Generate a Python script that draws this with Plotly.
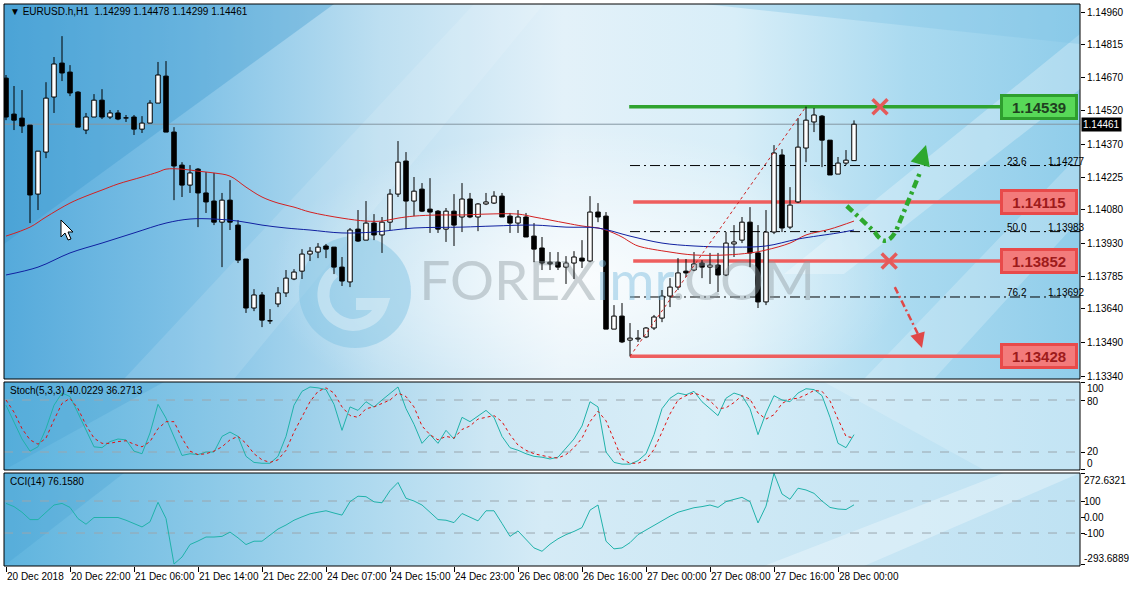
import base64
import plotly.graph_objects as go

# ---------------- data ----------------
bar_index = list(range(107))
opens = [1.14666, 1.14506, 1.14488, 1.14457, 1.14150, 1.14337, 1.14582, 1.14733, 1.14693, 1.14604,
         1.14435, 1.14493, 1.14568, 1.14493, 1.14511, 1.14488, 1.14493, 1.14439, 1.14466, 1.14555,
         1.14675, 1.14426, 1.14279, 1.14190, 1.14261, 1.14155, 1.14119, 1.14025, 1.14123, 1.14012,
         1.13861, 1.13643, 1.13701, 1.13585, 1.13661, 1.13710, 1.13772, 1.13807, 1.13883, 1.13892,
         1.13919, 1.13914, 1.13825, 1.13759, 1.13994, 1.13945, 1.14021, 1.13968, 1.14025, 1.14150,
         1.14297, 1.14119, 1.14172, 1.14083, 1.14074, 1.13994, 1.14074, 1.14048, 1.14128, 1.14048,
         1.14106, 1.14110, 1.14141, 1.14052, 1.14021, 1.14048, 1.13963, 1.13910, 1.13847, 1.13847,
         1.13825, 1.13843, 1.13865, 1.13852, 1.14070, 1.14052, 1.13549, 1.13607, 1.13500, 1.13505,
         1.13514, 1.13554, 1.13598, 1.13696, 1.13736, 1.13807, 1.13812, 1.13843, 1.13825, 1.13834,
         1.13790, 1.13928, 1.13945, 1.14025, 1.13888, 1.13670, 1.13981, 1.14324, 1.14003, 1.14115,
         1.14355, 1.14471, 1.14497, 1.14390, 1.14239, 1.14288, 1.14299]
highs = [1.14680, 1.14631, 1.14613, 1.14457, 1.14341, 1.14648, 1.14760, 1.14853, 1.14724, 1.14608,
         1.14511, 1.14595, 1.14617, 1.14524, 1.14524, 1.14502, 1.14502, 1.14497, 1.14568, 1.14738,
         1.14742, 1.14448, 1.14292, 1.14279, 1.14266, 1.14248, 1.14244, 1.14155, 1.14212, 1.14034,
         1.13861, 1.13727, 1.13714, 1.13638, 1.13736, 1.13812, 1.13816, 1.13905, 1.13914, 1.13932,
         1.13928, 1.13914, 1.13870, 1.13999, 1.14079, 1.14119, 1.14061, 1.14048, 1.14172, 1.14386,
         1.14337, 1.14226, 1.14199, 1.14221, 1.14079, 1.14088, 1.14150, 1.14199, 1.14155, 1.14110,
         1.14155, 1.14163, 1.14155, 1.14066, 1.14079, 1.14066, 1.14021, 1.13959, 1.13892, 1.13892,
         1.13874, 1.13896, 1.13945, 1.14141, 1.14110, 1.14070, 1.13656, 1.13665, 1.13576, 1.13545,
         1.13558, 1.13612, 1.13723, 1.13776, 1.13865, 1.13861, 1.13892, 1.13856, 1.13888, 1.13888,
         1.13981, 1.14012, 1.14048, 1.14092, 1.14012, 1.14079, 1.14368, 1.14350, 1.14181, 1.14488,
         1.14539, 1.14533, 1.14502, 1.14390, 1.14315, 1.14346, 1.14478]
lows = [1.14479, 1.14435, 1.14422, 1.14021, 1.14079, 1.14310, 1.14511, 1.14653, 1.14586, 1.14448,
        1.14417, 1.14493, 1.14484, 1.14484, 1.14479, 1.14471, 1.14413, 1.14422, 1.14466, 1.14555,
        1.14426, 1.14123, 1.14137, 1.14155, 1.14003, 1.14066, 1.14012, 1.13825, 1.13990, 1.13843,
        1.13621, 1.13629, 1.13558, 1.13572, 1.13647, 1.13692, 1.13767, 1.13772, 1.13852, 1.13865,
        1.13865, 1.13794, 1.13741, 1.13736, 1.13937, 1.13945, 1.13945, 1.13888, 1.13990, 1.14137,
        1.13994, 1.14052, 1.14070, 1.13977, 1.13977, 1.13937, 1.13919, 1.13981, 1.14043, 1.13985,
        1.14101, 1.14106, 1.14048, 1.13977, 1.13977, 1.13959, 1.13847, 1.13812, 1.13812, 1.13812,
        1.13750, 1.13772, 1.13821, 1.13847, 1.14025, 1.13549, 1.13549, 1.13487, 1.13428, 1.13492,
        1.13509, 1.13545, 1.13580, 1.13647, 1.13723, 1.13781, 1.13807, 1.13776, 1.13750, 1.13714,
        1.13785, 1.13870, 1.13932, 1.13825, 1.13643, 1.13656, 1.13972, 1.13981, 1.13994, 1.14110,
        1.14292, 1.14426, 1.14270, 1.14235, 1.14239, 1.14279, 1.14299]
closes = [1.14493, 1.14479, 1.14453, 1.14146, 1.14341, 1.14577, 1.14729, 1.14689, 1.14600, 1.14448,
          1.14493, 1.14568, 1.14493, 1.14511, 1.14484, 1.14489, 1.14439, 1.14466, 1.14555, 1.14680,
          1.14426, 1.14275, 1.14190, 1.14244, 1.14155, 1.14115, 1.14025, 1.14123, 1.14025, 1.13856,
          1.13643, 1.13701, 1.13589, 1.13586, 1.13710, 1.13776, 1.13803, 1.13883, 1.13896, 1.13914,
          1.13905, 1.13825, 1.13763, 1.13990, 1.13941, 1.14021, 1.13968, 1.14025, 1.14150, 1.14292,
          1.14119, 1.14163, 1.14074, 1.14070, 1.13994, 1.14074, 1.14012, 1.14128, 1.14048, 1.14106,
          1.14115, 1.14141, 1.14048, 1.14021, 1.14048, 1.13959, 1.13905, 1.13843, 1.13839, 1.13825,
          1.13843, 1.13870, 1.13852, 1.14070, 1.14048, 1.13549, 1.13607, 1.13492, 1.13509, 1.13509,
          1.13554, 1.13603, 1.13696, 1.13736, 1.13799, 1.13799, 1.13839, 1.13825, 1.13834, 1.13790,
          1.13932, 1.13937, 1.14025, 1.13888, 1.13670, 1.13981, 1.14333, 1.13999, 1.14101, 1.14359,
          1.14479, 1.14502, 1.14390, 1.14235, 1.14288, 1.14301, 1.14461]

ma_red_bars = [0, 3, 5, 8, 10, 12, 14, 17, 19, 20, 22, 24, 26, 28, 30, 32, 34, 36, 38, 42, 45, 47, 49, 51,
               54, 57, 60, 64, 66, 70, 72, 74, 75, 77, 78, 79, 83, 86, 90, 93, 95, 98, 100, 103, 106]
ma_red = [1.13963, 1.14003, 1.14048, 1.14110, 1.14141, 1.14168, 1.14195, 1.14226, 1.14248, 1.14261,
          1.14261, 1.14252, 1.14244, 1.14230, 1.14181, 1.14137, 1.14110, 1.14092, 1.14070, 1.14043,
          1.14030, 1.14030, 1.14043, 1.14052, 1.14057, 1.14057, 1.14061, 1.14061, 1.14048, 1.14021,
          1.14008, 1.13999, 1.13990, 1.13959, 1.13937, 1.13919, 1.13892, 1.13879, 1.13879, 1.13888,
          1.13901, 1.13932, 1.13968, 1.13994, 1.14030]
ma_blue_bars = [0, 4, 8, 12, 16, 20, 23, 26, 29, 32, 35, 38, 42, 46, 51, 57, 61, 66, 70, 74, 78, 82, 86,
                91, 95, 99, 104, 106]
ma_blue = [1.13790, 1.13825, 1.13888, 1.13932, 1.13977, 1.14021, 1.14039, 1.14039, 1.14030, 1.14012,
           1.13999, 1.13990, 1.13977, 1.13981, 1.13999, 1.14003, 1.14008, 1.14012, 1.14003, 1.13999,
           1.13963, 1.13932, 1.13919, 1.13914, 1.13919, 1.13950, 1.13977, 1.13990]

stoch_k = [74, 55, 35, 21, 26, 47, 74, 88, 84, 65, 45, 26, 25, 32, 35, 34, 21, 18, 42, 75,
           59, 38, 16, 18, 17, 20, 20, 38, 43, 38, 15, 8, 7, 7, 15, 38, 74, 90, 95, 94,
           92, 75, 45, 72, 68, 78, 72, 80, 88, 95, 70, 52, 30, 40, 30, 45, 35, 60, 55, 62,
           68, 60, 38, 25, 22, 18, 15, 14, 12, 14, 25, 35, 50, 78, 72, 20, 8, 6, 6, 10,
           18, 40, 70, 82, 88, 86, 90, 78, 70, 62, 82, 88, 85, 70, 40, 65, 85, 80, 78, 88,
           93, 92, 85, 60, 30, 25, 40.0229]
stoch_d = [80, 66, 47, 34, 29, 36, 57, 76, 82, 70, 51, 36, 30, 30, 32, 33, 29, 26, 32, 47,
           55, 55, 36, 21, 17, 18, 21, 26, 34, 38, 30, 18, 11, 8, 11, 22, 43, 60, 78, 90,
           94, 88, 72, 62, 60, 70, 72, 76, 80, 88, 84, 72, 50, 40, 34, 38, 36, 46, 50, 58,
           60, 62, 55, 40, 28, 22, 18, 16, 14, 13, 17, 25, 36, 55, 67, 56, 33, 12, 7, 7,
           11, 23, 43, 64, 80, 85, 88, 85, 79, 70, 71, 77, 85, 81, 65, 58, 63, 76, 81, 82,
           86, 91, 90, 79, 58, 38, 36.2713]
cci = [85, 65, 30, -16, -16, 30, 75, 85, 60, -10, -45, -3, -3, -3, -3, -20, -40, -62, -30, 92,
       -9, -293.6889, -250, -172, -150, -125, -125, -121, -94, -130, -172, -151, -151, -110, -75, -50, -20, 1, 20, 30,
       39, 25, 12, 96, 130, 127, 95, 89, 165, 216, 117, 100, 75, 30, -16, -20, -35, 22, 0, -24,
       39, 39, -40, -121, -87, -140, -193, -214, -170, -136, -110, -90, -66, 43, 75, -151, -199, -193, -160, -110,
       -80, -50, -20, 5, 30, 45, 58, 65, 75, 60, 96, 110, 123, 96, -37, 68, 272.6321, 144, 111, 180,
       169, 148, 100, 60, 50, 47, 76.158]

price_ticks = [1.14960, 1.14815, 1.14670, 1.14520, 1.14370, 1.14225, 1.14080, 1.13930, 1.13785, 1.13640, 1.13490, 1.13340]
price_tick_text = ["1.14960", "1.14815", "1.14670", "1.14520", "1.14370", "1.14225", "1.14080", "1.13930",
                   "1.13785", "1.13640", "1.13490", "1.13340"]
stoch_ticks = [100, 80, 20, 0]
stoch_tick_text = ["100", "80", "20", "0"]
stoch_levels = [80, 20]
cci_ticks = [272.6321, 100, 0, -100, -293.6889]
cci_tick_text = ["272.6321", "100", "0.00", "-100", "-293.6889"]
cci_levels = [100, -100]
time_tick_bars = [0, 8, 16, 24, 32, 40, 48, 56, 64, 72, 80, 88, 96, 104]
time_tick_labels = ["20 Dec 2018", "20 Dec 22:00", "21 Dec 06:00", "21 Dec 14:00", "21 Dec 22:00",
                    "24 Dec 07:00", "24 Dec 15:00", "24 Dec 23:00", "26 Dec 08:00", "26 Dec 16:00",
                    "27 Dec 00:00", "27 Dec 08:00", "27 Dec 16:00", "28 Dec 00:00"]

bid_price = 1.14461
resistance_levels = [1.14539]
support_levels = [1.14115, 1.13852, 1.13428]
fib_percent = ["23.6", "50.0", "76.2"]
fib_prices = [1.14277, 1.13983, 1.13692]
fib_anchor_bars = [78, 100]
fib_anchor_prices = [1.13428, 1.14539]

header_text = "EURUSD.h,H1  1.14299 1.14478 1.14299 1.14461"
stoch_title = "Stoch(5,3,3) 40.0229 36.2713"
cci_title = "CCI(14) 76.1580"

# ---------------- geometry ----------------
W, H = 1129, 589
ML, MR, MT, MB = 4, 49, 4, 23
PW = W - ML - MR
PH = H - MT - MB


def paper_x(px):
    return (px - ML) / PW


def paper_y(py):
    return (H - MB - py) / PH


main_dom = [paper_y(379), 1.0]
stoch_dom = [paper_y(470), paper_y(382)]
cci_dom = [0.0, paper_y(473)]
X_RANGE = [-0.25, 134.25]
BOX_X = 124.25

FONT = "Liberation Sans, Arial, sans-serif"


def svg_uri(svg):
    return "data:image/svg+xml;base64," + base64.b64encode(svg.encode("utf-8")).decode("ascii")


main_svg = """<svg xmlns='http://www.w3.org/2000/svg' width='1076' height='375' viewBox='0 0 1076 375' preserveAspectRatio='none'>
<defs>
<linearGradient id='g' x1='0' y1='0' x2='1' y2='0'>
<stop offset='0' stop-color='#55aadb'/><stop offset='0.17' stop-color='#7fc1e6'/>
<stop offset='0.35' stop-color='#bddff1'/><stop offset='0.52' stop-color='#e3f1f9'/>
<stop offset='0.68' stop-color='#d8eef8'/><stop offset='0.84' stop-color='#aadaf0'/>
<stop offset='1' stop-color='#90cdea'/></linearGradient>
<radialGradient id='w' cx='0.5' cy='0.5' r='0.5'>
<stop offset='0' stop-color='#ffffff' stop-opacity='0.8'/><stop offset='1' stop-color='#ffffff' stop-opacity='0'/></radialGradient>
</defs>
<rect width='1076' height='375' fill='url(#g)'/>
<polygon points='0,0 330,0 0,240' fill='#3a98cf' opacity='0.35'/>
<ellipse cx='580' cy='275' rx='320' ry='150' fill='url(#w)'/>
<polygon points='120,375 470,0 540,0 230,375' fill='#ffffff' opacity='0.12'/>
<polygon points='1076,30 780,270 840,270 1076,85' fill='#ffffff' opacity='0.28'/>
<polygon points='1076,150 860,375 930,375 1076,215' fill='#ffffff' opacity='0.22'/>
<polygon points='700,0 1076,0 1076,40' fill='#7fc4e6' opacity='0.35'/>
<circle cx='351' cy='288' r='56' fill='#7cc0e2' opacity='0.45'/>
<path d='M 330,268 A 30,30 0 1 0 378,300 L 352,300' fill='none' stroke='#ffffff' stroke-width='12' opacity='0.35'/>
</svg>"""

stoch_svg = """<svg xmlns='http://www.w3.org/2000/svg' width='1076' height='88' viewBox='0 0 1076 88' preserveAspectRatio='none'>
<defs><linearGradient id='g' x1='0' y1='0' x2='1' y2='0'>
<stop offset='0' stop-color='#5cb3de'/><stop offset='0.25' stop-color='#94cce9'/>
<stop offset='0.45' stop-color='#cde7f4'/><stop offset='0.65' stop-color='#d9eef8'/>
<stop offset='0.85' stop-color='#c2e4f4'/><stop offset='1' stop-color='#b6dff2'/></linearGradient></defs>
<rect width='1076' height='88' fill='url(#g)'/>
<polygon points='0,0 160,0 0,88' fill='#3e9bd0' opacity='0.25'/>
<polygon points='820,0 1076,0 1076,88 980,88' fill='#ffffff' opacity='0.18'/>
</svg>"""

cci_svg = """<svg xmlns='http://www.w3.org/2000/svg' width='1076' height='93' viewBox='0 0 1076 93' preserveAspectRatio='none'>
<defs><linearGradient id='g' x1='0' y1='0' x2='1' y2='0'>
<stop offset='0' stop-color='#5fb4de'/><stop offset='0.3' stop-color='#a5d5ed'/>
<stop offset='0.5' stop-color='#d5ebf6'/><stop offset='0.7' stop-color='#cde8f5'/>
<stop offset='1' stop-color='#bfe2f3'/></linearGradient></defs>
<rect width='1076' height='93' fill='url(#g)'/>
<polygon points='0,93 0,0 120,0' fill='#3e9bd0' opacity='0.25'/>
<polygon points='760,93 1000,0 1076,0 860,93' fill='#ffffff' opacity='0.3'/>
</svg>"""

fig = go.Figure()

# watermark
fig.add_trace(go.Scatter(
    x=[76.4], y=[1.13741], mode="text",
    text=["FOREX<span style='color:#6fb6dc'>imr</span>.COM"],
    textfont=dict(family="Lato, Open Sans, sans-serif", size=55, color="#8c989e"),
    opacity=0.42, hoverinfo="skip", xaxis="x", yaxis="y"))

# wicks (only outside the bodies)
wick_x, wick_y = [], []
for i in bar_index:
    top = max(opens[i], closes[i])
    bot = min(opens[i], closes[i])
    if highs[i] > top:
        wick_x += [i, i, None]
        wick_y += [top, highs[i], None]
    if lows[i] < bot:
        wick_x += [i, i, None]
        wick_y += [lows[i], bot, None]
fig.add_trace(go.Scatter(x=wick_x, y=wick_y, mode="lines", line=dict(color="black", width=1),
                         hoverinfo="skip", xaxis="x", yaxis="y"))

bull = [i for i in bar_index if closes[i] >= opens[i]]
bear = [i for i in bar_index if closes[i] < opens[i]]
MIN_BODY = 0.00002
for idx, fillc in ((bull, "white"), (bear, "black")):
    fig.add_trace(go.Bar(
        x=idx,
        y=[max(abs(closes[i] - opens[i]), MIN_BODY) for i in idx],
        base=[min(opens[i], closes[i]) for i in idx],
        width=0.56,
        marker=dict(color=fillc, line=dict(color="black", width=1)),
        hoverinfo="skip", xaxis="x", yaxis="y"))

# moving averages
fig.add_trace(go.Scatter(x=ma_red_bars, y=ma_red, mode="lines",
                         line=dict(color="#d42020", width=1, shape="spline"), hoverinfo="skip"))
fig.add_trace(go.Scatter(x=ma_blue_bars, y=ma_blue, mode="lines",
                         line=dict(color="#1020a0", width=1, shape="spline"), hoverinfo="skip"))

# crosses
fig.add_trace(go.Scatter(x=[109.25, 110.4], y=[resistance_levels[0], support_levels[1]], mode="markers",
                         marker=dict(symbol="x-thin", size=15, line=dict(width=3.5, color="#e55a5a")),
                         hoverinfo="skip"))

# stochastic
fig.add_trace(go.Scatter(x=bar_index, y=stoch_k, mode="lines", line=dict(color="#20b2aa", width=1),
                         xaxis="x", yaxis="y2", hoverinfo="skip"))
fig.add_trace(go.Scatter(x=bar_index, y=stoch_d, mode="lines", line=dict(color="#e01010", width=1, dash="dot"),
                         xaxis="x", yaxis="y2", hoverinfo="skip"))
# CCI
fig.add_trace(go.Scatter(x=bar_index, y=cci, mode="lines", line=dict(color="#20b2aa", width=1),
                         xaxis="x", yaxis="y3", hoverinfo="skip"))

shapes = []
for lv in stoch_levels:
    shapes.append(dict(type="line", xref="paper", x0=0, x1=1, yref="y2", y0=lv, y1=lv,
                       line=dict(color="#9aa6ae", width=1, dash="dash"), layer="below"))
for lv in cci_levels:
    shapes.append(dict(type="line", xref="paper", x0=0, x1=1, yref="y3", y0=lv, y1=lv,
                       line=dict(color="#9aa6ae", width=1, dash="dash"), layer="below"))
shapes.append(dict(type="line", xref="paper", x0=0, x1=1, yref="y", y0=bid_price, y1=bid_price,
                   line=dict(color="#8496a2", width=1), layer="below"))
for fp in fib_prices:
    shapes.append(dict(type="line", xref="x", x0=fib_anchor_bars[0], x1=X_RANGE[1], yref="y", y0=fp, y1=fp,
                       line=dict(color="black", width=1, dash="10px,4px,2px,4px"), layer="below"))
shapes.append(dict(type="line", xref="x", x0=fib_anchor_bars[0], x1=fib_anchor_bars[1], yref="y",
                   y0=fib_anchor_prices[0], y1=fib_anchor_prices[1],
                   line=dict(color="#cc2222", width=1, dash="dot")))
for lv in resistance_levels:
    shapes.append(dict(type="line", xref="x", x0=77.9, x1=BOX_X, yref="y", y0=lv, y1=lv,
                       line=dict(color="#2fa32f", width=3.5), layer="below"))
for lv, x0 in zip(support_levels, [78.4, 78.4, 78.0]):
    shapes.append(dict(type="line", xref="x", x0=x0, x1=BOX_X, yref="y", y0=lv, y1=lv,
                       line=dict(color="#ee5e5e", width=3.5), layer="below"))
shapes.append(dict(type="path", xref="x", yref="y",
                   path="M 105.1,1.14097 L 108.6,1.13981 Q 110.0,1.13900 111.3,1.13990 L 114.3,1.14250",
                   line=dict(color="#2ea82e", width=4.5, dash="8px,4px,3px,4px")))
shapes.append(dict(type="line", xref="x", yref="y", x0=111.1, y0=1.13736, x1=114.0, y1=1.13527,
                   line=dict(color="#e04848", width=2.5, dash="7px,3px,2px,3px")))
for dom in (main_dom, stoch_dom, cci_dom):
    shapes.append(dict(type="rect", xref="paper", yref="paper", x0=0, x1=1, y0=dom[0], y1=dom[1],
                       line=dict(color="black", width=1), fillcolor="rgba(0,0,0,0)"))
cursor_pts = [(61, 220), (61, 237), (65, 233), (68, 240), (71, 239), (68, 232), (73, 232)]
cpath = "M " + " L ".join(f"{paper_x(a):.5f},{paper_y(b):.5f}" for a, b in cursor_pts) + " Z"
shapes.append(dict(type="path", xref="paper", yref="paper", path=cpath,
                   fillcolor="white", line=dict(color="black", width=1)))

ann = []
small = dict(family=FONT, size=10, color="black")
ann.append(dict(xref="paper", yref="paper", x=paper_x(8), y=paper_y(12), xanchor="left", yanchor="middle",
                text="▼ " + header_text, showarrow=False, font=dict(family=FONT, size=10, color="black")))
ann.append(dict(xref="paper", yref="paper", x=paper_x(8), y=paper_y(390), xanchor="left", yanchor="middle",
                text=stoch_title, showarrow=False, font=small))
ann.append(dict(xref="paper", yref="paper", x=paper_x(8), y=paper_y(481), xanchor="left", yanchor="middle",
                text=cci_title, showarrow=False, font=small))
for v, t, sh in zip(stoch_ticks, stoch_tick_text, [-6, -2, 0, 6]):
    ann.append(dict(xref="paper", yref="y2", x=1, y=v, xanchor="left", yanchor="middle", xshift=5, yshift=sh,
                    text=t, showarrow=False, font=small))
for v, t, sh in zip(cci_ticks, cci_tick_text, [-7, 0, 0, 0, 6]):
    ann.append(dict(xref="paper", yref="y3", x=1, y=v, xanchor="left", yanchor="middle", xshift=2, yshift=sh,
                    text=t, showarrow=False, font=small))
for b, t in zip(time_tick_bars, time_tick_labels):
    ann.append(dict(xref="x", yref="paper", x=b, y=0, xanchor="left", yanchor="top", xshift=-1, yshift=-3,
                    text=t, showarrow=False, font=small))
ann.append(dict(xref="paper", yref="y", x=1, y=bid_price, xanchor="left", yanchor="middle", xshift=1,
                text=f"{bid_price:.5f}", showarrow=False, bgcolor="black", borderpad=1,
                font=dict(family=FONT, size=10, color="white")))
for pct, fp in zip(fib_percent, fib_prices):
    ann.append(dict(xref="x", yref="y", x=124.9, y=fp, xanchor="left", yanchor="bottom", yshift=-3,
                    text=pct, showarrow=False, font=small))
    ann.append(dict(xref="x", yref="y", x=130.0, y=fp, xanchor="left", yanchor="bottom", yshift=-3,
                    text=f"{fp:.5f}", showarrow=False, font=small))
for lv in resistance_levels:
    ann.append(dict(xref="x", yref="y", x=BOX_X, y=lv, xanchor="left", yanchor="middle",
                    text=f"<b>{lv:.5f}</b>", showarrow=False, width=70, height=18, borderpad=1,
                    bgcolor="#58d858", bordercolor="#2e9e2e", borderwidth=3,
                    font=dict(family=FONT, size=15, color="#1f3f1f")))
for lv in support_levels:
    ann.append(dict(xref="x", yref="y", x=BOX_X, y=lv, xanchor="left", yanchor="middle",
                    text=f"<b>{lv:.5f}</b>", showarrow=False, width=70, height=18, borderpad=1,
                    bgcolor="#f37b7b", bordercolor="#e84a4a", borderwidth=3,
                    font=dict(family=FONT, size=15, color="#9e1b1b")))
ann.append(dict(xref="x", yref="y", x=115.0, y=1.14368, ax=-6, ay=20, text="", showarrow=True,
                arrowhead=2, arrowsize=1, arrowwidth=4, arrowcolor="#2ea82e"))
ann.append(dict(xref="x", yref="y", x=114.5, y=1.13465, ax=-4, ay=-13, text="", showarrow=True,
                arrowhead=2, arrowsize=1.2, arrowwidth=2.5, arrowcolor="#e04848"))

images = [
    dict(source=svg_uri(main_svg), xref="paper", yref="paper", x=0, y=main_dom[1], sizex=1,
         sizey=main_dom[1] - main_dom[0], xanchor="left", yanchor="top", sizing="stretch", layer="below"),
    dict(source=svg_uri(stoch_svg), xref="paper", yref="paper", x=0, y=stoch_dom[1], sizex=1,
         sizey=stoch_dom[1] - stoch_dom[0], xanchor="left", yanchor="top", sizing="stretch", layer="below"),
    dict(source=svg_uri(cci_svg), xref="paper", yref="paper", x=0, y=cci_dom[1], sizex=1,
         sizey=cci_dom[1] - cci_dom[0], xanchor="left", yanchor="top", sizing="stretch", layer="below"),
]

axis_common = dict(showgrid=False, zeroline=False, showline=False, fixedrange=True)
fig.update_layout(
    width=W, height=H, margin=dict(l=ML, r=MR, t=MT, b=MB),
    paper_bgcolor="white", plot_bgcolor="rgba(0,0,0,0)",
    showlegend=False, hovermode=False, barmode="overlay",
    xaxis=dict(domain=[0, 1], range=X_RANGE, anchor="y3", tickvals=time_tick_bars, ticks="outside",
               ticklen=5, tickcolor="black", showticklabels=False, **axis_common),
    yaxis=dict(domain=main_dom, range=[1.13327, 1.14996], anchor="x", side="right",
               tickvals=price_ticks, ticktext=price_tick_text, ticks="outside", ticklen=4, tickcolor="black",
               tickfont=dict(family=FONT, size=10, color="black"), **axis_common),
    yaxis2=dict(domain=stoch_dom, range=[-0.76, 100.76], anchor="x", side="right", tickvals=stoch_ticks,
                ticks="outside", ticklen=4, tickcolor="black", showticklabels=False, **axis_common),
    yaxis3=dict(domain=cci_dom, range=[-306, 275], anchor="x", side="right", tickvals=cci_ticks,
                ticks="outside", ticklen=4, tickcolor="black", showticklabels=False, **axis_common),
    shapes=shapes, annotations=ann, images=images,
)

fig.write_html("out.html", config={"displayModeBar": False},
               post_script="document.body.style.margin='0px';document.body.style.overflow='hidden';")
